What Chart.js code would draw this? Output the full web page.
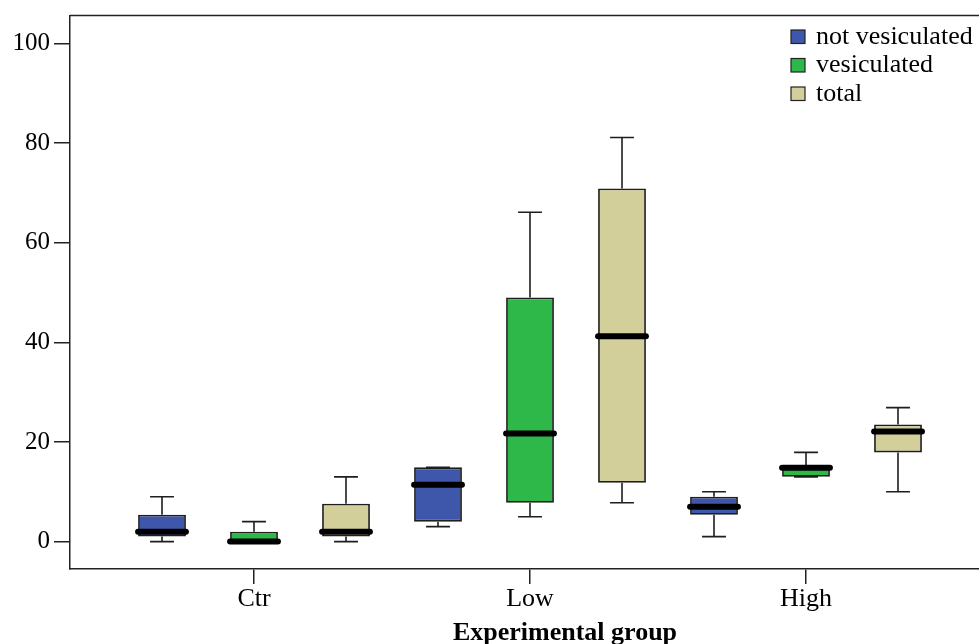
<!DOCTYPE html>
<html><head><meta charset="utf-8">
<script src="https://cdn.jsdelivr.net/npm/chart.js@4"></script>
<style>html,body{margin:0;padding:0;background:#fff;overflow:hidden;} #wrap{width:979px;height:644px;position:relative;}</style>
</head><body><div id="wrap"><canvas id="c" width="979" height="644"></canvas></div>
<script>
const categories = ['Ctr', 'Low', 'High'];
const seriesNames = ['not vesiculated', 'vesiculated', 'total'];
const yTicks = [0, 20, 40, 60, 80, 100];
const xTitle = 'Experimental group';

const notVesMin = [0, 3, 1];
const notVesQ1  = [1, 4, 5.4];
const notVesMed = [2, 11.4, 7];
const notVesQ3  = [5.4, 14.9, 9];
const notVesMax = [9, 14.9, 10];

const vesMin = [0, 5, 13];
const vesQ1  = [0, 7.8, 13];
const vesMed = [0, 21.7, 14.8];
const vesQ3  = [2, 49, 15];
const vesMax = [4, 66.1, 17.9];

const totMin = [0, 7.8, 10];
const totQ1  = [1, 11.8, 17.9];
const totMed = [2, 41.2, 22.1];
const totQ3  = [7.6, 70.9, 23.5];
const totMax = [13, 81.1, 26.9];

const FONT = "'Liberation Serif', 'Times New Roman', serif";
const fills = ['#3f57aa', '#2fb84a', '#d3cf9a'];

function makeDataset(idx, mins, q1s, meds, q3s, maxs) {
  return {
    label: seriesNames[idx],
    data: q1s.map((q, i) => ({x: i, y: [q, q3s[i]]})),
    stats: q1s.map((q, i) => ({min: mins[i], q1: q, med: meds[i], q3: q3s[i], max: maxs[i]})),
    backgroundColor: fills[idx],
    borderColor: '#1e1e1e',
    borderWidth: 1.8,
    borderSkipped: false,
    categoryPercentage: 1.0,
    barPercentage: 0.52
  };
}

const boxPlugin = {
  id: 'boxWhisk',
  afterDatasetsDraw(chart) {
    const ctx = chart.ctx, y = chart.scales.y;
    chart.data.datasets.forEach((ds, i) => {
      const meta = chart.getDatasetMeta(i);
      meta.data.forEach((el, j) => {
        const st = ds.stats[j];
        const x = el.x, w = el.width;
        const yq1 = y.getPixelForValue(st.q1), yq3 = y.getPixelForValue(st.q3);
        const ymin = y.getPixelForValue(st.min), ymax = y.getPixelForValue(st.max);
        const ymed = y.getPixelForValue(st.med);
        ctx.save();
        ctx.strokeStyle = '#1e1e1e';
        ctx.lineWidth = 1.6;
        ctx.beginPath();
        ctx.moveTo(x, yq3); ctx.lineTo(x, ymax);
        ctx.moveTo(x - w / 4, ymax); ctx.lineTo(x + w / 4, ymax);
        ctx.moveTo(x, yq1); ctx.lineTo(x, ymin);
        ctx.moveTo(x - w / 4, ymin); ctx.lineTo(x + w / 4, ymin);
        ctx.stroke();
        ctx.strokeStyle = '#000';
        ctx.lineWidth = 6;
        ctx.lineCap = 'round';
        ctx.beginPath();
        ctx.moveTo(x - w / 2, ymed); ctx.lineTo(x + w / 2, ymed);
        ctx.stroke();
        ctx.restore();
      });
    });
  }
};

const framePlugin = {
  id: 'frame',
  afterDraw(chart) {
    const ctx = chart.ctx, a = chart.chartArea;
    ctx.save();
    ctx.strokeStyle = '#222';
    ctx.lineWidth = 1.5;
    ctx.beginPath();
    ctx.moveTo(a.left, a.top); ctx.lineTo(chart.width, a.top);
    ctx.stroke();
    ctx.fillStyle = '#000';
    ctx.font = 'bold 26px ' + FONT;
    ctx.textAlign = 'center';
    ctx.textBaseline = 'alphabetic';
    ctx.fillText(xTitle, 565, 640);
    ctx.restore();
  }
};

const legendPlugin = {
  id: 'myLegend',
  afterDraw(chart) {
    const ctx = chart.ctx;
    ctx.save();
    ctx.font = '26px ' + FONT;
    ctx.textBaseline = 'alphabetic';
    ctx.textAlign = 'left';
    chart.data.datasets.forEach((ds, i) => {
      const top = 30 + i * 28.5;
      ctx.fillStyle = ds.backgroundColor;
      ctx.fillRect(791, top, 14, 13.5);
      ctx.strokeStyle = '#222';
      ctx.lineWidth = 1.2;
      ctx.strokeRect(791, top, 14, 13.5);
      ctx.fillStyle = '#000';
      ctx.fillText(ds.label, 816, top + 13.5);
    });
    ctx.restore();
  }
};

new Chart(document.getElementById('c'), {
  type: 'bar',
  data: {
    datasets: [
      makeDataset(0, notVesMin, notVesQ1, notVesMed, notVesQ3, notVesMax),
      makeDataset(1, vesMin, vesQ1, vesMed, vesQ3, vesMax),
      makeDataset(2, totMin, totQ1, totMed, totQ3, totMax)
    ]
  },
  options: {
    responsive: false,
    animation: false,
    devicePixelRatio: 1,
    layout: {padding: {top: 15.5, right: 0, left: 0, bottom: 0}},
    plugins: {legend: {display: false}, tooltip: {enabled: false}},
    scales: {
      x: {
        type: 'linear',
        min: -0.6667,
        max: 2.6268,
        offset: false,
        afterFit(s) { s.height = 75; s.paddingLeft = 0; s.paddingRight = 0; },
        afterBuildTicks(s) { s.ticks = categories.map((c, i) => ({value: i})); },
        grid: {display: true, offset: false, drawOnChartArea: false, drawTicks: true, tickLength: 15, color: '#222', lineWidth: 1.5},
        border: {display: true, color: '#222', width: 1.5},
        ticks: {color: '#000', padding: 0, font: {family: FONT, size: 26}, callback: (v) => categories[v]},
        title: {display: false}
      },
      y: {
        min: -5.5,
        max: 105.6,
        afterFit(s) { s.width = 70; s.paddingTop = 0; s.paddingBottom = 0; },
        afterBuildTicks(s) { s.ticks = yTicks.map(v => ({value: v})); },
        grid: {display: true, drawOnChartArea: false, drawTicks: true, tickLength: 16, color: '#222', lineWidth: 1.5},
        border: {display: true, color: '#222', width: 1.5},
        ticks: {color: '#000', padding: 4, font: {family: FONT, size: 25}}
      }
    }
  },
  plugins: [boxPlugin, framePlugin, legendPlugin]
});
</script>
</body></html>
